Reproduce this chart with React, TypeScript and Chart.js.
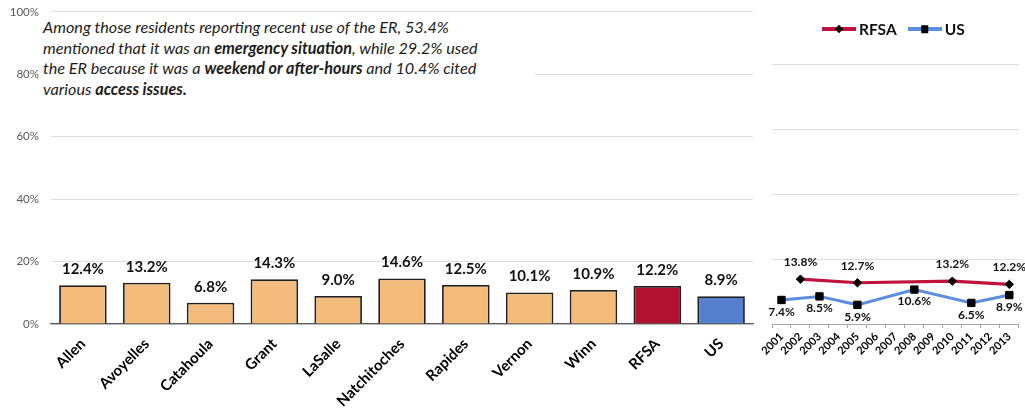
import React, { useEffect, useRef } from 'react';
import { Chart, registerables } from 'chart.js';

Chart.register(...registerables);

// ---------- data ----------
const categories = ['Allen', 'Avoyelles', 'Catahoula', 'Grant', 'LaSalle', 'Natchitoches', 'Rapides', 'Vernon', 'Winn', 'RFSA', 'US'];
const barValues = [12.4, 13.2, 6.8, 14.3, 9.0, 14.6, 12.5, 10.1, 10.9, 12.2, 8.9];
const years = ['2001', '2002', '2003', '2004', '2005', '2006', '2007', '2008', '2009', '2010', '2011', '2012', '2013'];
const rfsaTrend = [null, 13.8, null, null, 12.7, null, null, null, null, 13.2, null, null, 12.2];
const usTrend = [7.4, null, 8.5, null, 5.9, null, null, 10.6, null, null, 6.5, null, 8.9];
const yTickValues = [0, 20, 40, 60, 80, 100];
const seriesNames = ['RFSA', 'US'];

// ---------- styles ----------
const FONT = 'Lato, "Open Sans", "DejaVu Sans", sans-serif';
const PEACH = '#F4BC7C';
const CRIMSON = '#B0122F';
const BLUE = '#5680CE';
const RFSA_LINE = '#C0143C';
const US_LINE = '#5B8EDC';
const GRID = '#DEDEDE';
const barColors = categories.map((c) => (c === 'RFSA' ? CRIMSON : c === 'US' ? BLUE : PEACH));

const H = 408;
const SHIFT = 7; // canvas is raised so the plot top meets the page top margin
const CANVAS_H = H + SHIFT;
const TOP = 3;
const XAXIS_H = 84;

const valueLabels = {
  id: 'valueLabels',
  afterDatasetsDraw(chart: any) {
    const ctx = chart.ctx;
    chart.data.datasets.forEach((ds: any, i: number) => {
      const cfg = ds.valueLabel;
      if (!cfg) return;
      const meta = chart.getDatasetMeta(i);
      meta.data.forEach((el: any, j: number) => {
        const v = ds.data[j];
        if (v == null) return;
        ctx.save();
        ctx.font = cfg.font;
        ctx.fillStyle = '#111';
        ctx.textAlign = 'center';
        ctx.textBaseline = 'middle';
        ctx.fillText(v.toFixed(1) + '%', el.x, el.y + cfg.offset);
        ctx.restore();
      });
    });
  },
};

function BarPanel() {
  const ref = useRef<HTMLCanvasElement>(null);
  useEffect(() => {
    const chart = new Chart(ref.current!, {
      type: 'bar',
      data: {
        labels: categories,
        datasets: [
          {
            data: barValues,
            backgroundColor: barColors,
            borderColor: '#1f1f1f',
            borderWidth: 1.8,
            categoryPercentage: 1,
            barPercentage: 0.745,
            valueLabel: { font: `bold 15px ${FONT}`, offset: -16 },
          } as any,
        ],
      },
      options: {
        animation: false,
        responsive: false,
        maintainAspectRatio: false,
        layout: { padding: { top: TOP, right: 7, left: 0, bottom: 0 } },
        plugins: { legend: { display: false }, tooltip: { enabled: false } },
        scales: {
          x: {
            grid: { display: false, drawTicks: false },
            border: { display: true, color: '#595959', width: 1.2 },
            ticks: {
              autoSkip: false,
              minRotation: 45,
              maxRotation: 45,
              padding: 11,
              color: '#000',
              font: { family: FONT, size: 15, weight: 'bold' },
            },
            afterFit: (s: any) => { s.height = XAXIS_H; },
          },
          y: {
            min: 0,
            max: 100,
            afterBuildTicks: (s: any) => { s.ticks = yTickValues.map((v) => ({ value: v })); },
            grid: { color: GRID, lineWidth: 1, drawTicks: false },
            border: { display: false },
            ticks: {
              padding: 12,
              color: '#595959',
              font: { family: FONT, size: 11.5 },
              callback: (v: any) => v + '%',
            },
            afterFit: (s: any) => { s.width = 51; },
          },
        },
      },
      plugins: [valueLabels],
    });
    return () => chart.destroy();
  }, []);
  return <canvas ref={ref} width={760} height={CANVAS_H} style={{ position: 'absolute', left: 0, top: -SHIFT }} />;
}

function LinePanel() {
  const ref = useRef<HTMLCanvasElement>(null);
  useEffect(() => {
    const chart = new Chart(ref.current!, {
      type: 'line',
      data: {
        labels: years,
        datasets: [
          {
            label: seriesNames[0],
            data: rfsaTrend,
            borderColor: RFSA_LINE,
            borderWidth: 3.2,
            spanGaps: true,
            pointStyle: 'rectRot',
            pointRadius: 4.2,
            pointBackgroundColor: '#000',
            pointBorderColor: '#000',
            pointBorderWidth: 1,
            valueLabel: { font: `bold 12px ${FONT}`, offset: -17 },
          } as any,
          {
            label: seriesNames[1],
            data: usTrend,
            borderColor: US_LINE,
            borderWidth: 3,
            spanGaps: true,
            pointStyle: 'rect',
            pointRadius: 5.2,
            pointBackgroundColor: '#000',
            pointBorderColor: '#000',
            pointBorderWidth: 1,
            valueLabel: { font: `bold 12px ${FONT}`, offset: 12 },
          } as any,
        ],
      },
      options: {
        animation: false,
        responsive: false,
        maintainAspectRatio: false,
        layout: { padding: { top: TOP, right: 6, left: 12, bottom: 0 } },
        plugins: { legend: { display: false }, tooltip: { enabled: false } },
        scales: {
          x: {
            offset: true,
            grid: { display: true, drawOnChartArea: false, drawTicks: true, tickLength: 4, offset: true, color: '#A6A6A6' },
            border: { display: true, color: '#A6A6A6', width: 1 },
            ticks: {
              autoSkip: false,
              minRotation: 45,
              maxRotation: 45,
              padding: 2,
              color: '#000',
              font: { family: FONT, size: 11, weight: 'bold' },
            },
            afterFit: (s: any) => { s.height = XAXIS_H; },
          },
          y: {
            min: 0,
            max: 100,
            afterBuildTicks: (s: any) => { s.ticks = yTickValues.map((v) => ({ value: v })); },
            grid: { color: GRID, lineWidth: 1, drawTicks: false },
            border: { display: false },
            ticks: { display: false },
            afterFit: (s: any) => { s.width = 0; },
          },
        },
      },
      plugins: [valueLabels],
    });
    return () => chart.destroy();
  }, []);
  return <canvas ref={ref} width={265} height={CANVAS_H} style={{ position: 'absolute', left: 760, top: -SHIFT }} />;
}

function LegendItem({ name, color, marker }: { name: string; color: string; marker: 'diamond' | 'square' }) {
  const m =
    marker === 'diamond'
      ? { width: 6, height: 6, transform: 'translate(-50%, -50%) rotate(45deg)' }
      : { width: 7.5, height: 7.5, transform: 'translate(-50%, -50%)' };
  return (
    <div style={{ display: 'flex', alignItems: 'center', marginRight: 11 }}>
      <div style={{ position: 'relative', width: 34, height: 3.5, background: color }}>
        <div style={{ position: 'absolute', left: '50%', top: '50%', background: '#000', ...m }} />
      </div>
      <span style={{ marginLeft: 3, font: `bold 15.5px ${FONT}`, color: '#111' }}>{name}</span>
    </div>
  );
}

export default function App() {
  return (
    <div style={{ position: 'absolute', left: 0, top: 0, width: 1025, height: H, background: '#fff', overflow: 'hidden' }}>
      <BarPanel />
      <LinePanel />
      <div
        style={{
          position: 'absolute',
          left: 41,
          top: 17,
          width: 492,
          padding: '0 0 2px 2px',
          background: '#fff',
          font: `italic 16.2px ${FONT}`,
          lineHeight: '20.7px',
          color: '#1c1c1c',
          whiteSpace: 'nowrap',
        }}
      >
        Among those residents reporting recent use of the ER, 53.4%
        <br />
        mentioned that it was an <b>emergency situation</b>, while 29.2% used
        <br />
        the ER because it was a <b>weekend or after-hours</b> and 10.4% cited
        <br />
        various <b>access issues.</b>
      </div>
      <div style={{ position: 'absolute', left: 822, top: 19, height: 20, display: 'flex', alignItems: 'center' }}>
        <LegendItem name={seriesNames[0]} color={RFSA_LINE} marker="diamond" />
        <LegendItem name={seriesNames[1]} color={US_LINE} marker="square" />
      </div>
    </div>
  );
}
